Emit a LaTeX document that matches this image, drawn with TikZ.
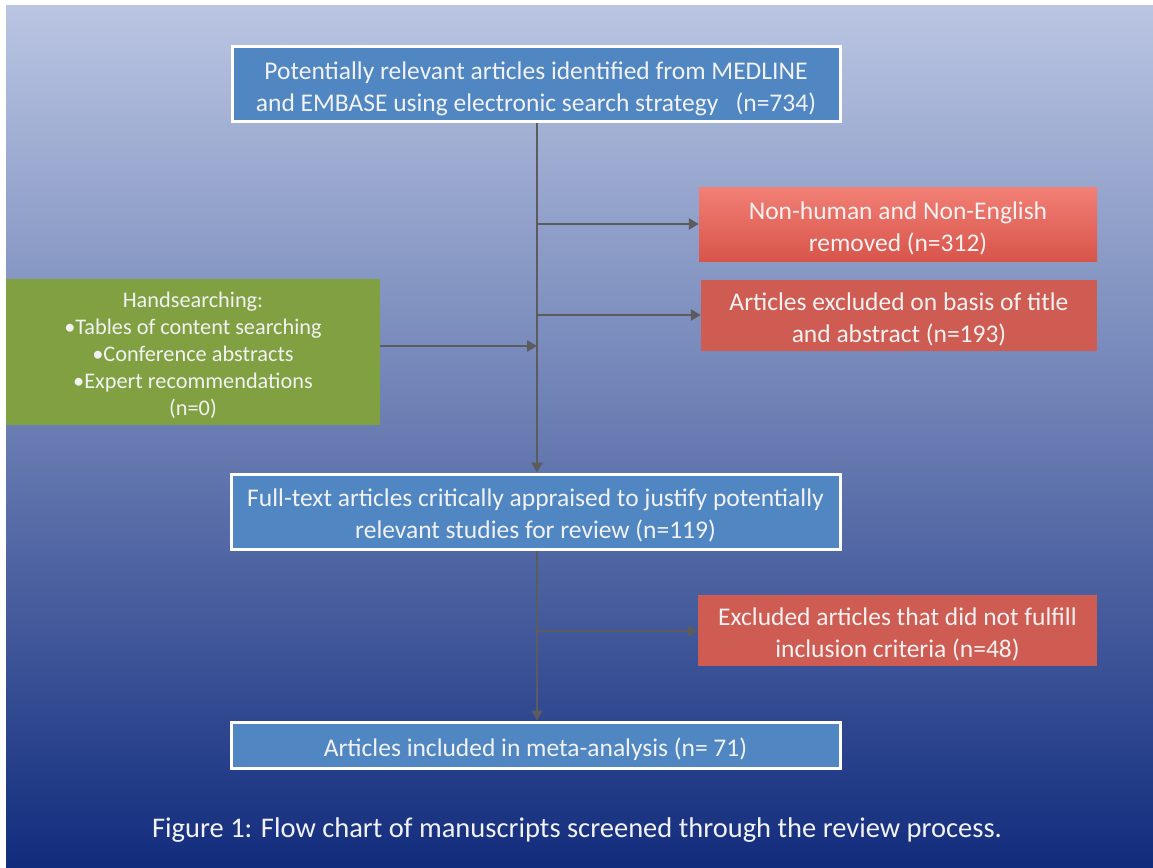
\documentclass[tikz,border=0pt]{standalone}
\usepackage{fontspec}
\setmainfont{Carlito}
\usetikzlibrary{arrows.meta}
\definecolor{bgtop}{RGB}{186,197,226}
\definecolor{bgmid}{RGB}{104,124,178}
\definecolor{bgbot}{RGB}{18,44,125}
\definecolor{boxblue}{RGB}{80,134,194}
\definecolor{redtop}{RGB}{242,128,118}
\definecolor{redbot}{RGB}{216,84,74}
\definecolor{redflat}{RGB}{206,92,82}
\definecolor{boxgreen}{RGB}{128,160,66}
\definecolor{linegray}{RGB}{92,92,96}
\definecolor{txt}{RGB}{242,242,242}
\newcommand\mybigstrut{\rule{0pt}{26.5pt}}
\newcommand\mysmallstrut{\rule{0pt}{22pt}}
\tikzset{
  bluebox/.style={draw=white, line width=3pt, fill=boxblue, text=txt, align=center, inner sep=0pt,
    font=\fontsize{25.5}{32}\selectfont},
  redbox/.style={fill=redflat, text=txt, align=center, inner sep=0pt,
    font=\fontsize{25.5}{32}\selectfont},
  greenbox/.style={fill=boxgreen, text=txt, align=center, inner sep=0pt,
    font=\fontsize{22.3}{26.8}\selectfont},
  flow/.style={draw=linegray, line width=2.6pt, -{Triangle[length=10pt,width=11pt]}}
}
\begin{document}
\begin{tikzpicture}[x=1pt,y=-1pt]
\useasboundingbox (0,0) rectangle (1153,867);
\fill[white] (0,0) rectangle (1153,867);
\shade[top color=bgtop, bottom color=bgbot, middle color=bgmid] (6,6) rectangle (1153,867);

\node[bluebox, minimum width=608pt, minimum height=74pt] (top) at (536,84)
  {\mybigstrut Potentially relevant articles identified from MEDLINE\\and EMBASE using electronic search strategy\ \ \ (n=734)};
\node[redbox, top color=redtop, bottom color=redbot, minimum width=398pt, minimum height=74pt] (r1) at (898,224)
  {\mybigstrut Non-human and Non-English\\removed (n=312)};
\node[redbox, minimum width=396pt, minimum height=71pt] (r2) at (899,315.5)
  {\mybigstrut Articles excluded on basis of title\\and abstract (n=193)};
\node[greenbox, minimum width=374pt, minimum height=146pt] (g) at (193,352)
  {\mysmallstrut Handsearching:\\•Tables of content searching\\•Conference abstracts\\•Expert recommendations\\(n=0)};
\node[bluebox, minimum width=609pt, minimum height=75pt] (full) at (535.5,511.5)
  {\mybigstrut Full-text articles critically appraised to justify potentially\\relevant studies for review (n=119)};
\node[redbox, minimum width=399pt, minimum height=71pt] (r3) at (897.5,630.5)
  {\mybigstrut Excluded articles that did not fulfill\\inclusion criteria (n=48)};
\node[bluebox, minimum width=609pt, minimum height=46pt] (fin) at (535.5,745)
  {\mybigstrut Articles included in meta-analysis (n= 71)};
\node[text=txt, font=\fontsize{28.5}{32}\selectfont] (cap) at (577,830)
  {Figure 1: Flow chart of manuscripts screened through the review process.};

\coordinate (j1) at (537,224);
\coordinate (j2) at (537,315);
\coordinate (j3) at (537,346);
\coordinate (j4) at (537,631);

\draw[flow] (top.south -| j1) -- (full.north -| j1);
\draw[flow] (j1) -- (r1.west |- j1);
\draw[flow] (j2) -- (r2.west |- j2);
\draw[flow] (g.east |- j3) -- (j3);
\draw[flow] (full.south -| j4) -- (fin.north -| j4);
\draw[flow] (j4) -- (r3.west |- j4);
\end{tikzpicture}
\end{document}
